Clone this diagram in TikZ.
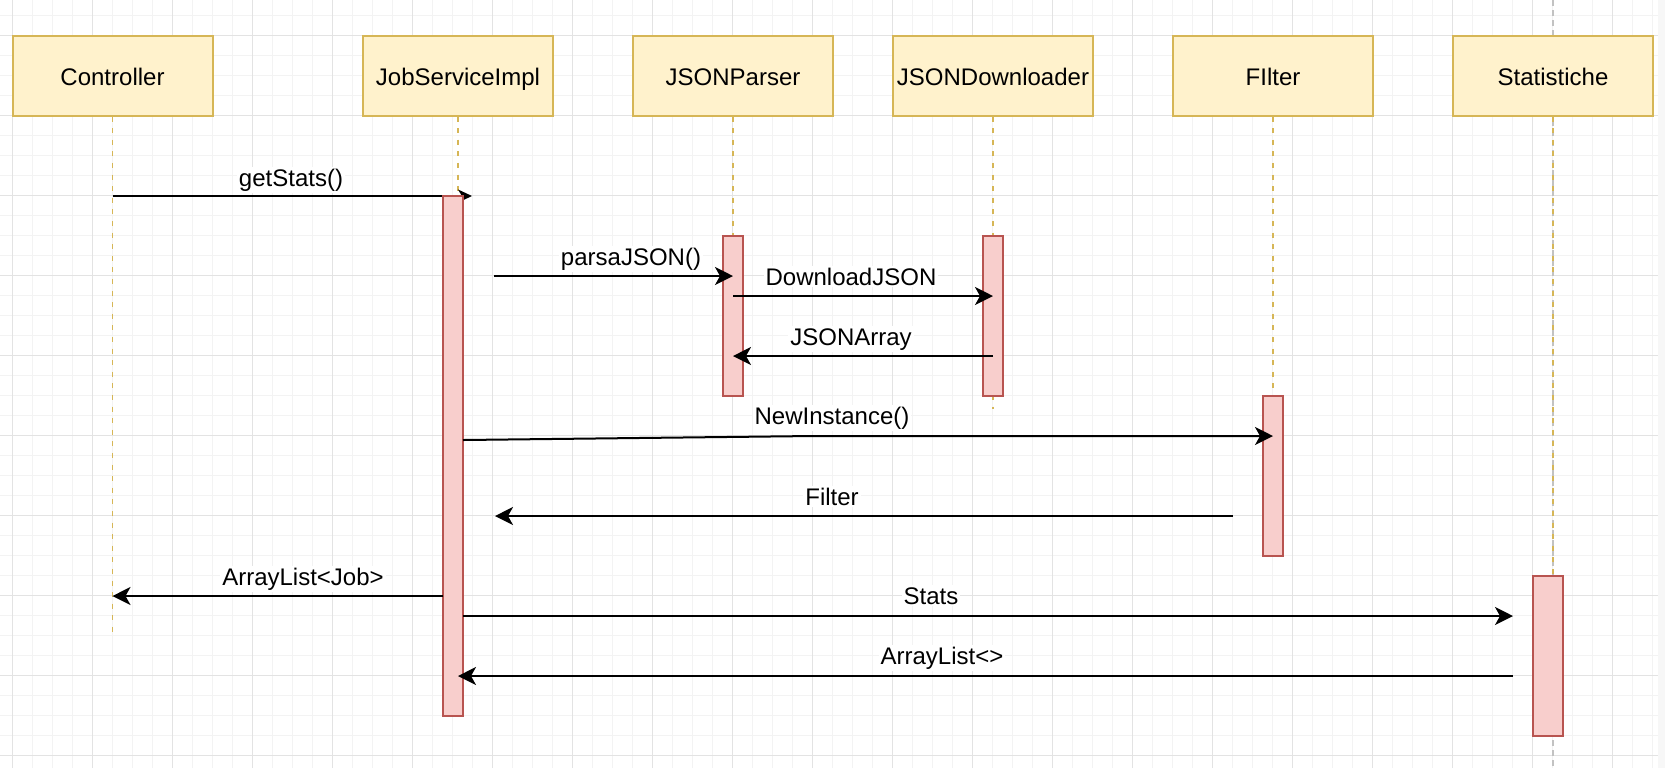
\documentclass[tikz,border=0pt]{standalone}
\usepackage{fontspec}
\setmainfont{Liberation Sans}
\usetikzlibrary{arrows.meta}
\definecolor{boxfill}{HTML}{FFF2CC}
\definecolor{boxline}{HTML}{D6B656}
\definecolor{actfill}{HTML}{F8CECC}
\definecolor{actline}{HTML}{B85450}
\definecolor{minorgrid}{HTML}{F3F3F3}
\definecolor{majorgrid}{HTML}{E3E3E3}
\definecolor{pagebreak}{HTML}{C2C2C2}

\begin{document}
\begin{tikzpicture}[x=.5pt, y=-.5pt, font=\fontsize{12}{14}\selectfont,
 obj/.style={draw=boxline, fill=boxfill, line width=1pt, minimum width=100pt, minimum height=40pt, inner sep=0pt, text height=9.5pt, text depth=0pt},
 act/.style={draw=actline, fill=actfill, line width=1pt, minimum width=10pt, minimum height=80pt, inner sep=0pt},
 life/.style={boxline, line width=.7pt, dash pattern=on 2.5pt off 3.3pt},
 msg/.style={line width=1pt, -{Stealth[length=9pt, width=9pt, inset=2.5pt]}},
 lbl/.style={fill=white, inner sep=1pt, anchor=base}]
\useasboundingbox (0,0) rectangle (1665,768);
\fill[white] (0,0) rectangle (1658,768);
\fill[black!3] (1658,0) rectangle (1665,768);
\foreach \i in {0,...,82} \draw[minorgrid, line width=.5pt] (12.5+20*\i,0) -- (12.5+20*\i,768);
\foreach \i in {0,...,37} \draw[minorgrid, line width=.5pt] (0,15.5+20*\i) -- (1658,15.5+20*\i);
\foreach \i in {0,...,20} \draw[majorgrid, line width=.7pt] (12.5+80*\i,0) -- (12.5+80*\i,768);
\foreach \i in {0,...,9} \draw[majorgrid, line width=.7pt] (0,35.5+80*\i) -- (1658,35.5+80*\i);
\draw[pagebreak, line width=.7pt, dash pattern=on 3pt off 2pt] (1553,0) -- (1553,768);

\node[obj] (ctrl) at (112.5,75.5) {Controller};
\node[obj, minimum width=95pt] (jsi) at (458,75.5) {JobServiceImpl};
\node[obj] (parser) at (733,75.5) {JSONParser};
\node[obj] (down) at (993,75.5) {JSONDownloader};
\node[obj] (filt) at (1273,75.5) {FIlter};
\node[obj] (stat) at (1553,75.5) {Statistiche};

\draw[life] (ctrl.south) -- (112.5,635);
\draw[life] (jsi.south) -- (458,716);
\draw[life] (parser.south) -- (733,396);
\draw[life] (down.south) -- (993,409);
\draw[life] (filt.south) -- (1273,556);
\draw[life] (stat.south) -- (1553,736);

\coordinate (gs) at (472,196);
\draw[line width=1pt, -{Stealth[length=7pt, width=6.5pt, inset=2pt]}] (ctrl.south |- gs) -- (gs);

\node[act, minimum height=260pt] (aJ) at (453,456) {};
\node[act] (aP) at (733,316) {};
\node[act] (aD) at (993,316) {};
\node[act] (aF) at (1273,476) {};
\node[act, minimum width=15pt] (aS) at (1548,656) {};

\coordinate (p1) at (494,276);
\coordinate (d1) at (733,296);
\coordinate (r1) at (993,356);
\coordinate (n1) at (463,440);
\coordinate (n2) at (813,436);
\coordinate (f1) at (1233,516);
\coordinate (f2) at (495,516);
\coordinate (j1) at (443,596);
\coordinate (s1) at (463,616);
\coordinate (s2) at (1513,616);
\coordinate (s3) at (1513,676);

\draw[msg] (p1) -- (p1 -| aP);
\draw[msg] (d1) -- (d1 -| aD);
\draw[msg] (r1) -- (r1 -| aP);
\draw[msg] (n1) -- (n2) -- (n2 -| aF);
\draw[msg] (f1) -- (f2);
\draw[msg] (j1) -- (j1 -| ctrl);
\draw[msg] (s1) -- (s2);
\draw[msg] (s3) -- (s3 -| jsi);

\node[lbl] (l1) at (291,186) {getStats()};
\node[lbl] (l2) at (631,265) {parsaJSON()};
\node[lbl] (l3) at (851,285) {DownloadJSON};
\node[lbl] (l4) at (851,345) {JSONArray};
\node[lbl] (l5) at (832,424) {NewInstance()};
\node[lbl] (l6) at (832,505) {Filter};
\node[lbl] (l7) at (303,585) {ArrayList<Job>};
\node[lbl] (l8) at (931,604) {Stats};
\node[lbl] (l9) at (942,664) {ArrayList<>};
\end{tikzpicture}
\end{document}
